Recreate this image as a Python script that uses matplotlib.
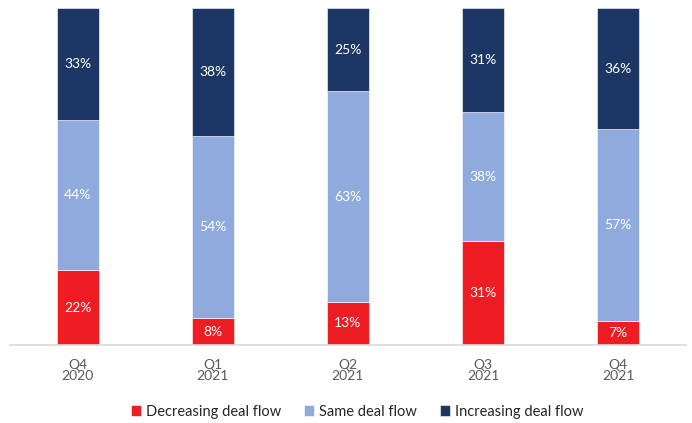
import numpy as np
import matplotlib.pyplot as plt

plt.rcParams['font.family'] = ['Lato', 'DejaVu Sans']

quarters = ['Q4\n2020', 'Q1\n2021', 'Q2\n2021', 'Q3\n2021', 'Q4\n2021']
decreasing = [22, 8, 13, 31, 7]
same = [44, 54, 63, 38, 57]
increasing = [33, 38, 25, 31, 36]

series = [
    ('Decreasing deal flow', decreasing, '#EE1D23'),
    ('Same deal flow', same, '#8FAADC'),
    ('Increasing deal flow', increasing, '#1C3763'),
]

# normalise each column to 100 so all bars reach the top
totals = np.array(decreasing) + np.array(same) + np.array(increasing)

fig = plt.figure(figsize=(6.92, 4.23), dpi=100)
ax = fig.add_axes([0.0145, 0.1844, 0.9765, 0.7966])

x = np.arange(len(quarters))
bottom = np.zeros(len(quarters))
for name, vals, color in series:
    h = np.array(vals) / totals * 100
    ax.bar(x, h, 0.31, bottom=bottom, color=color, label=name,
           edgecolor='white', linewidth=0.4)
    for xi, b, hi, v in zip(x, bottom, h, vals):
        ax.text(xi, b + hi / 2, f'{v}%', ha='center', va='center',
                color='white', fontsize=10)
    bottom += h

ax.set_xlim(-0.5, 4.5)
ax.set_ylim(0, 100)
ax.set_xticks(x)
ax.set_xticklabels(quarters, color='#595959', fontsize=10, linespacing=0.95)
ax.tick_params(axis='x', length=0, pad=10)
ax.set_yticks([])
for s in ['top', 'right', 'left']:
    ax.spines[s].set_visible(False)
ax.spines['bottom'].set_color('#d9d9d9')
ax.spines['bottom'].set_linewidth(1.2)

leg = fig.legend(loc='center', bbox_to_anchor=(0.516, 0.027), ncol=3, frameon=False,
                 fontsize=10.5, handlelength=0.7, handleheight=0.7,
                 handletextpad=0.3, columnspacing=1.6)
for t in leg.get_texts():
    t.set_color('#262626')

fig.savefig('out.png', dpi=100)
